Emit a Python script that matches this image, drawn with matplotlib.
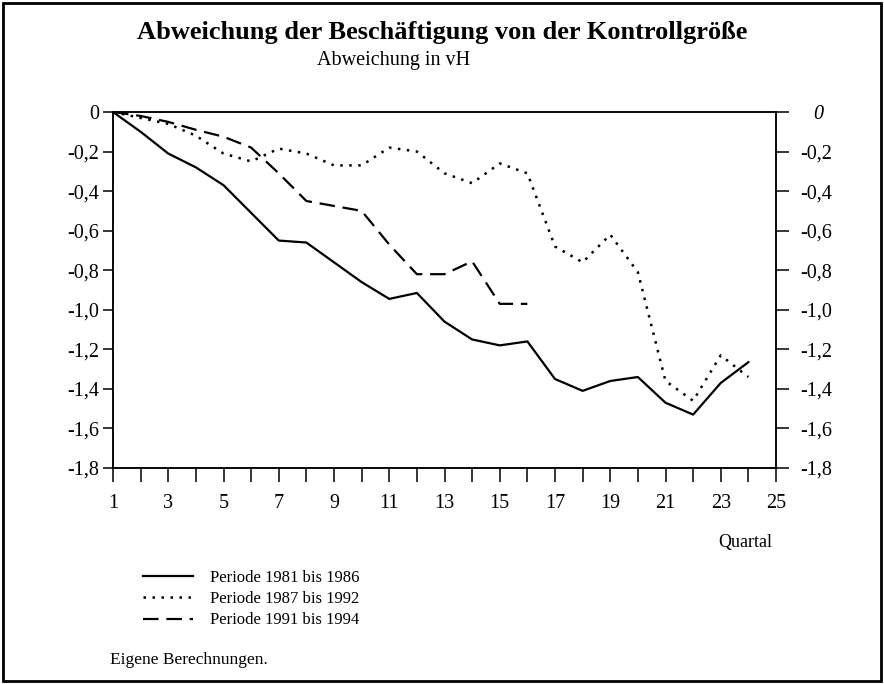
import numpy as np
import matplotlib
matplotlib.use("Agg")
import matplotlib.pyplot as plt
from matplotlib.patches import Rectangle
from matplotlib.transforms import ScaledTranslation

plt.rcParams["font.family"] = ["Liberation Serif", "DejaVu Serif"]

# Quartale
quartal = np.arange(1, 25)
quartal_9194 = np.arange(1, 17)

# Abweichung in vH
periode_8186 = [0, -0.10, -0.21, -0.28, -0.37, -0.51, -0.65, -0.66, -0.76, -0.86,
                -0.945, -0.915, -1.06, -1.15, -1.18, -1.16, -1.35, -1.41, -1.36, -1.34,
                -1.47, -1.53, -1.37, -1.265]
periode_8792 = [0, -0.03, -0.06, -0.12, -0.21, -0.25, -0.185, -0.21, -0.27, -0.27,
                -0.18, -0.20, -0.31, -0.36, -0.26, -0.31, -0.68, -0.76, -0.62, -0.81,
                -1.36, -1.46, -1.23, -1.34]
periode_9194 = [0, -0.02, -0.05, -0.09, -0.125, -0.18, -0.31, -0.45, -0.475, -0.50,
                -0.67, -0.82, -0.82, -0.755, -0.97, -0.97]

yticks = [0, -0.2, -0.4, -0.6, -0.8, -1.0, -1.2, -1.4, -1.6, -1.8]
ytick_labels = ["0", "-0,2", "-0,4", "-0,6", "-0,8", "-1,0", "-1,2", "-1,4", "-1,6", "-1,8"]
xticks = np.arange(1, 26)
xtick_labels = [str(q) if q % 2 == 1 else "" for q in xticks]

fig = plt.figure(figsize=(8.84, 6.84), dpi=100)
ax = fig.add_axes([113 / 884, 1 - 468 / 684, (776 - 113) / 884, (468 - 112) / 684])

ax.plot(quartal, periode_8186, color="black", lw=1.6, ls="-", label="Periode 1981 bis 1986")
ax.plot(quartal, periode_8792, color="black", lw=1.8, ls=(0, (1.0, 2.6)), label="Periode 1987 bis 1992")
ax.plot(quartal_9194, periode_9194, color="black", lw=1.6, ls=(0, (7, 3.5)), label="Periode 1991 bis 1994")

ax.set_xlim(1, 25)
ax.set_ylim(-1.8, 0)
ax.set_xticks(xticks)
ax.set_xticklabels(xtick_labels)
ax.set_yticks(yticks)
ax.set_yticklabels(ytick_labels)
ax.tick_params(axis="y", direction="out", length=7.5, width=1.1, labelsize=14.5, pad=2.5)
ax.tick_params(axis="x", direction="out", length=10, width=1.1, labelsize=14.5, pad=9)
for s in ax.spines.values():
    s.set_linewidth(1.1)

# rechte Achse
ax2 = ax.twinx()
ax2.set_ylim(-1.8, 0)
ax2.set_yticks(yticks)
ax2.set_yticklabels(ytick_labels)
ax2.tick_params(axis="y", direction="out", length=9.5, width=1.1, labelsize=14.5, pad=8)
null_label = ax2.get_yticklabels()[0]
null_label.set_fontstyle("italic")
null_label.set_transform(null_label.get_transform() + ScaledTranslation(13 / 100, 0, fig.dpi_scale_trans))
for s in ax2.spines.values():
    s.set_linewidth(1.1)

fig.text(0.5, 1 - 33 / 684, "Abweichung der Beschäftigung von der Kontrollgröße",
         ha="center", va="center", fontsize=19, fontweight="bold")
fig.text(394 / 884, 1 - 60 / 684, "Abweichung in vH", ha="center", va="center", fontsize=14.5)
fig.text(745 / 884, 1 - 542 / 684, "Quartal", ha="center", va="center", fontsize=13)
fig.text(110 / 884, 1 - 660 / 684, "Eigene Berechnungen.", ha="left", va="center", fontsize=12.5)

fig.legend(loc="upper left", bbox_to_anchor=(143 / 884, 1 - 570 / 684), frameon=False,
           fontsize=12, handlelength=3.0, handletextpad=1.0, labelspacing=0.31,
           borderpad=0, borderaxespad=0)

fig.patches.append(Rectangle((3 / 884, 3 / 684), 878 / 884, 678 / 684, transform=fig.transFigure,
                             fill=False, edgecolor="black", lw=2))

fig.savefig("out.png", dpi=100)
